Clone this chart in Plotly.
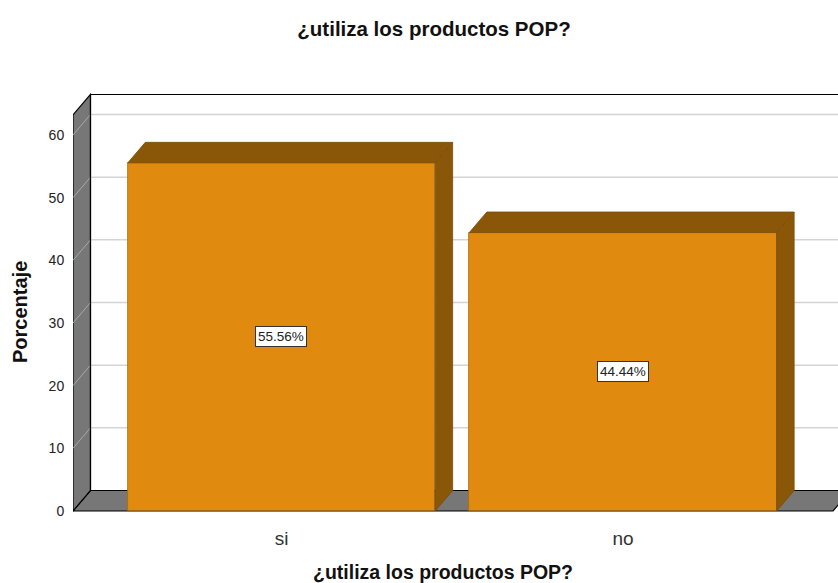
import plotly.graph_objects as go

# ---- data ----
categories = ["si", "no"]
percentages = [55.56, 44.44]
labels = ["55.56%", "44.44%"]
y_ticks = [0, 10, 20, 30, 40, 50, 60]

title_text = "¿utiliza los productos POP?"
x_title = "¿utiliza los productos POP?"
y_title = "Porcentaje"

# ---- style / geometry ----
FRONT = "#E08A10"
DARK = "#8A5608"
WALL = "#777777"
GRID = "#D4D4D4"
BAR_W = 0.9
DX, DY = 0.0512, 3.27          # 3D depth offset in data units
X_LEFT = -0.6105               # front-left edge of the side wall
X_RIGHT = 1.615                # front-right edge of floor
Y_TOP = 63.2                   # top of wall
FONT = "Liberation Sans, Arial, sans-serif"

xs = list(range(len(categories)))
fig = go.Figure()

# front faces
fig.add_trace(go.Bar(
    x=xs, y=percentages, width=BAR_W,
    marker=dict(color=FRONT, line=dict(color="#A8690E", width=0.8)),
    hoverinfo="skip", showlegend=False,
))

# top and side faces
for x, v in zip(xs, percentages):
    l, r = x - BAR_W / 2, x + BAR_W / 2
    fig.add_trace(go.Scatter(
        x=[l, r, r + DX, l + DX, l], y=[v, v, v + DY, v + DY, v],
        fill="toself", fillcolor=DARK, mode="lines",
        line=dict(color="#7A4C06", width=0.8), hoverinfo="skip", showlegend=False))
    fig.add_trace(go.Scatter(
        x=[r, r + DX, r + DX, r, r], y=[0, DY, v + DY, v, 0],
        fill="toself", fillcolor=DARK, mode="lines",
        line=dict(color="#7A4C06", width=0.8), hoverinfo="skip", showlegend=False))

shapes = []
# floor
shapes.append(dict(type="path", xref="x", yref="y", layer="below",
                   path=f"M {X_LEFT} 0 L {X_RIGHT} 0 L {X_RIGHT+DX} {DY} L {X_LEFT+DX} {DY} Z",
                   fillcolor=WALL, line=dict(color="#000000", width=1.2)))
# left wall
shapes.append(dict(type="path", xref="x", yref="y", layer="below",
                   path=f"M {X_LEFT} 0 L {X_LEFT} {Y_TOP} L {X_LEFT+DX} {Y_TOP+DY} L {X_LEFT+DX} {DY} Z",
                   fillcolor=WALL, line=dict(color="#000000", width=1.2)))
# gridlines on back wall and side wall
for t in y_ticks[1:]:
    shapes.append(dict(type="line", xref="x", yref="y", layer="below",
                       x0=X_LEFT + DX, x1=2.0, y0=t + DY, y1=t + DY,
                       line=dict(color=GRID, width=1.5)))
    shapes.append(dict(type="line", xref="x", yref="y", layer="below",
                       x0=X_LEFT, x1=X_LEFT + DX, y0=t, y1=t + DY,
                       line=dict(color="#A8A8A8", width=1)))
# back wall top and left edge
shapes.append(dict(type="line", xref="x", yref="y", layer="below",
                   x0=X_LEFT + DX, x1=2.0, y0=Y_TOP + DY, y1=Y_TOP + DY,
                   line=dict(color="#000000", width=1.2)))
shapes.append(dict(type="line", xref="x", yref="y", layer="below",
                   x0=X_LEFT + DX, x1=X_LEFT + DX, y0=DY, y1=Y_TOP + DY,
                   line=dict(color="#000000", width=1.2)))

annotations = []
for x, v, lab in zip(xs, percentages, labels):
    annotations.append(dict(x=x, y=v / 2, xref="x", yref="y", text=lab, showarrow=False,
                            font=dict(family=FONT, size=13.5, color="#222222"),
                            bgcolor="#FFFFFF", bordercolor="#333333", borderwidth=1, borderpad=2))
# axis titles
annotations.append(dict(x=(443 - 73) / 765, y=(520 - 572) / 440, xref="paper", yref="paper",
                        text=f"<b>{x_title}</b>", showarrow=False, xanchor="center", yanchor="middle",
                        font=dict(family=FONT, size=19.5, color="#111111")))
annotations.append(dict(x=(20 - 73) / 765, y=(520 - 312) / 440, xref="paper", yref="paper",
                        text=f"<b>{y_title}</b>", showarrow=False, textangle=-90,
                        xanchor="center", yanchor="middle",
                        font=dict(family=FONT, size=20, color="#111111")))

fig.update_layout(
    width=838, height=583,
    margin=dict(l=73, r=0, t=80, b=63),
    paper_bgcolor="white", plot_bgcolor="white",
    bargap=0, showlegend=False,
    title=dict(text=f"<b>{title_text}</b>", x=434 / 838, xanchor="center", y=1 - 29 / 583,
               yanchor="middle", font=dict(family=FONT, size=20.5, color="#111111")),
    xaxis=dict(range=[X_LEFT, 1.6296], tickvals=xs, ticktext=categories, showgrid=False,
               zeroline=False, showline=False, ticks="outside", ticklen=1, tickcolor="white",
               tickfont=dict(family=FONT, size=19, color="#333333")),
    yaxis=dict(range=[-1.436, 68.78], tickvals=y_ticks, showgrid=False, zeroline=False,
               showline=False, ticks="outside", ticklen=5, tickcolor="white",
               tickfont=dict(family=FONT, size=14, color="#222222")),
    shapes=shapes, annotations=annotations,
)

fig.write_html("out.html", post_script="document.body.style.margin='0';",
               config={"displayModeBar": False})
